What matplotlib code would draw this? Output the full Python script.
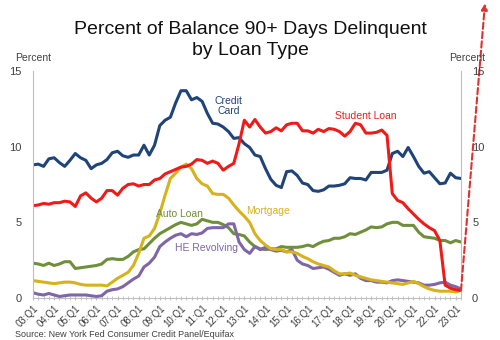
import matplotlib
matplotlib.use("Agg")
import matplotlib.pyplot as plt
import numpy as np

plt.rcParams["font.family"] = ["Liberation Sans", "DejaVu Sans"]

# quarterly, 03:Q1 .. 23:Q2
quarters = [f"{y:02d}:Q{q}" for y in range(3, 24) for q in range(1, 5)][:82]

credit_card = [8.8, 8.85, 8.7, 9.2, 9.27, 8.95, 8.7, 9.1, 9.55, 9.27,
               9.1, 8.55, 8.8, 8.9, 9.15, 9.6, 9.7, 9.4, 9.3, 9.45,
               9.45, 10.1, 9.45, 10.1, 11.4, 11.75, 11.95, 12.9, 13.7, 13.7,
               13.1, 13.25, 13.0, 12.2, 11.55, 11.5, 11.3, 11.0, 10.55, 10.6,
               10.2, 9.95, 9.45, 9.35, 8.55, 7.85, 7.45, 7.3, 8.35, 8.4,
               8.1, 7.6, 7.5, 7.1, 7.05, 7.15, 7.4, 7.4, 7.45, 7.55,
               7.95, 7.9, 7.9, 7.8, 8.3, 8.3, 8.3, 8.45, 9.55, 9.7,
               9.35, 9.95, 9.35, 8.7, 8.25, 8.35, 7.95, 7.55, 7.6, 8.25,
               7.95, 7.9]

student_loan = [6.1, 6.15, 6.25, 6.2, 6.3, 6.3, 6.4, 6.35, 6.05, 6.75,
                6.95, 6.6, 6.35, 6.6, 7.1, 7.1, 6.8, 7.25, 7.5, 7.55,
                7.4, 7.5, 7.5, 7.8, 7.9, 8.2, 8.35, 8.5, 8.65, 8.7,
                8.85, 9.15, 9.1, 8.9, 9.05, 8.9, 8.45, 8.7, 8.9, 10.2,
                11.75, 11.3, 11.8, 11.3, 10.9, 11.0, 11.25, 11.05, 11.45, 11.55,
                11.55, 11.05, 11.05, 10.9, 11.15, 11.0, 11.2, 11.15, 11.0, 10.7,
                11.0, 11.55, 11.45, 10.9, 10.9, 10.95, 11.1, 10.75, 6.9, 6.45,
                6.3, 5.9, 5.55, 5.2, 4.9, 4.65, 4.45, 3.8, 0.85, 0.65,
                0.55, 0.5]

mortgage = [1.15, 1.1, 1.05, 1.0, 0.95, 1.0, 1.05, 1.05, 1.0, 0.9,
            0.85, 0.85, 0.85, 0.85, 0.8, 1.05, 1.3, 1.5, 1.7, 2.15,
            2.95, 3.95, 4.1, 4.6, 5.6, 6.8, 7.9, 8.25, 8.65, 8.85,
            8.55, 7.9, 7.55, 7.4, 6.9, 6.85, 6.85, 6.6, 6.15, 5.75,
            5.4, 5.0, 4.25, 3.8, 3.5, 3.25, 3.2, 3.2, 3.05, 3.05,
            2.95, 2.75, 2.6, 2.4, 2.25, 2.15, 2.05, 1.8, 1.6, 1.6,
            1.65, 1.5, 1.4, 1.3, 1.2, 1.15, 1.1, 1.05, 1.0, 0.95,
            0.9, 1.0, 1.1, 0.95, 0.75, 0.6, 0.5, 0.45, 0.45, 0.45,
            0.4, 0.5]

auto_loan = [2.3, 2.25, 2.15, 2.3, 2.15, 2.25, 2.4, 2.4, 1.95, 2.0,
             2.05, 2.1, 2.15, 2.25, 2.55, 2.6, 2.55, 2.55, 2.75, 3.05,
             3.2, 3.25, 3.6, 3.95, 4.25, 4.45, 4.65, 4.85, 5.0, 4.9,
             4.8, 4.9, 5.2, 5.1, 5.0, 5.0, 4.85, 4.65, 4.25, 4.2,
             4.1, 3.7, 3.4, 3.25, 3.2, 3.25, 3.25, 3.4, 3.35, 3.35,
             3.35, 3.4, 3.5, 3.4, 3.6, 3.75, 3.8, 3.95, 3.95, 4.05,
             4.25, 4.2, 4.35, 4.5, 4.7, 4.65, 4.7, 4.9, 5.0, 5.0,
             4.8, 4.8, 4.8, 4.35, 4.05, 4.0, 3.95, 3.8, 3.8, 3.65,
             3.8, 3.7]

he_revolving = [0.35, 0.25, 0.2, 0.3, 0.2, 0.1, 0.15, 0.2, 0.2, 0.2,
                0.2, 0.15, 0.1, 0.15, 0.45, 0.55, 0.6, 0.75, 1.0, 1.25,
                1.45, 2.05, 2.3, 2.7, 3.4, 3.7, 3.95, 4.15, 4.25, 4.05,
                4.25, 4.2, 4.3, 4.6, 4.65, 4.65, 4.65, 4.9, 4.9, 3.7,
                3.2, 2.95, 3.4, 3.2, 3.35, 3.2, 3.1, 3.15, 3.05, 3.2,
                2.5, 2.25, 2.15, 1.95, 2.0, 2.05, 1.9, 1.7, 1.5, 1.6,
                1.5, 1.6, 1.3, 1.15, 1.15, 1.05, 1.05, 1.0, 1.15, 1.2,
                1.15, 1.1, 1.05, 1.0, 0.85, 0.85, 0.9, 1.0, 1.05, 0.85,
                0.75, 0.6]

C_CARD = "#1f4478"
C_STUD = "#ee1b1b"
C_MORT = "#d6b21c"
C_AUTO = "#6f8f3a"
C_HE = "#7e66a8"
GREY = "#bfbfbf"
TXT = "#404040"

x = np.arange(len(quarters))

fig = plt.figure(figsize=(5, 3.4), dpi=100)
ax = fig.add_axes([0.066, 0.1235, 0.856, 0.6675])

lw = 2.2
ax.plot(x, auto_loan, color=C_AUTO, lw=lw)
ax.plot(x, he_revolving, color=C_HE, lw=lw)
ax.plot(x, mortgage, color=C_MORT, lw=lw)
ax.plot(x, credit_card, color=C_CARD, lw=lw)
ax.plot(x, student_loan, color=C_STUD, lw=lw)

ax.set_xlim(0, len(quarters) - 1)
ax.set_ylim(0, 15)
ax.set_yticks([0, 5, 10, 15])
ax.set_xticks(x[::4])
ax.set_xticklabels(quarters[::4], rotation=45, ha="right", rotation_mode="anchor",
                   fontsize=7, color=TXT)
ax.set_xticks(x, minor=True)
ax.tick_params(axis="x", which="both", direction="inout", length=3, color=GREY, pad=2)
ax.tick_params(axis="y", length=0, labelsize=8, labelcolor=TXT, pad=8)
for s in ["left", "right", "bottom"]:
    ax.spines[s].set_color(GREY)
ax.spines["top"].set_visible(False)

ax2 = ax.twinx()
ax2.set_ylim(0, 15)
ax2.set_yticks([0, 5, 10, 15])
ax2.tick_params(axis="y", length=0, labelsize=8, labelcolor=TXT, pad=8)
for s in ["left", "right", "bottom", "top"]:
    ax2.spines[s].set_visible(False)

# series labels
ax.text(37, 12.7, "Credit\nCard", color=C_CARD, fontsize=7.5, ha="center", va="center",
        linespacing=1.05)
ax.text(63, 12.0, "Student Loan", color=C_STUD, fontsize=7.5, ha="center", va="center")
ax.text(44.5, 5.77, "Mortgage", color=C_MORT, fontsize=7.5, ha="center", va="center")
ax.text(27.8, 5.55, "Auto Loan", color=C_AUTO, fontsize=7.5, ha="center", va="center")
ax.text(32.9, 3.28, "HE Revolving", color=C_HE, fontsize=7.5, ha="center", va="center")

fig.text(0.5, 0.882, "Percent of Balance 90+ Days Delinquent\nby Loan Type",
         ha="center", va="center", fontsize=14, linespacing=1.3, color="#111111")
fig.text(0.03, 0.83, "Percent", fontsize=7.5, color=TXT, ha="left", va="center")
fig.text(0.97, 0.83, "Percent", fontsize=7.5, color=TXT, ha="right", va="center")
fig.text(0.03, 0.004, "Source: New York Fed Consumer Credit Panel/Equifax",
         fontsize=6.5, color=TXT, ha="left", va="bottom")

# red dashed arrow from last point up past the top
ax.annotate("", xy=(0.97, 0.99), xycoords="figure fraction",
            xytext=(x[-1], student_loan[-1]), textcoords="data",
            arrowprops=dict(arrowstyle="-|>", color="#e03030", lw=1.5,
                            linestyle=(0, (3, 1.5)), mutation_scale=9,
                            shrinkA=0, shrinkB=0),
            annotation_clip=False)

fig.savefig("out.png", dpi=100)
